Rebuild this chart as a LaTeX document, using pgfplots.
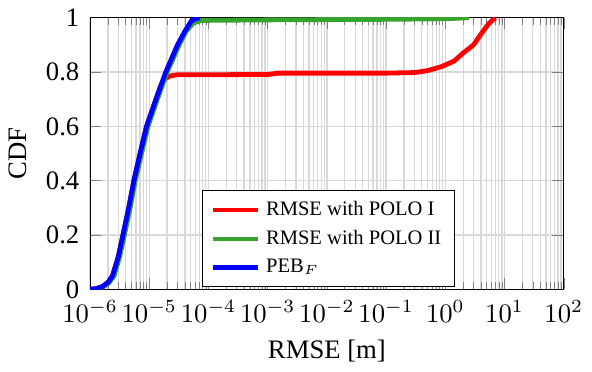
\documentclass[border=0pt]{standalone}
\usepackage{fontspec}
\setmainfont{Liberation Serif}
\usepackage{pgfplots}
\pgfplotsset{compat=1.18}
\definecolor{myred}{RGB}{255,0,0}
\definecolor{mygreen}{RGB}{55,165,45}
\definecolor{myblue}{RGB}{0,0,255}
\begin{document}
\begin{tikzpicture}
\begin{axis}[
  scale only axis,
  width=177.5pt, height=101.8pt,
  xmode=log,
  xmin=1e-6, xmax=1e2,
  ymin=0, ymax=1,
  xtick={1e-6,1e-5,1e-4,1e-3,1e-2,1e-1,1e0,1e1,1e2},
  ytick={0,0.2,0.4,0.6,0.8,1},
  yticklabels={0,0.2,0.4,0.6,0.8,1},
  yticklabel style={xshift=-0.5pt},
  xticklabel style={yshift=-0.6pt},
  ylabel shift=0.3pt,
  grid=both,
  major grid style={gray!30, line width=0.5pt},
  minor grid style={gray!30, line width=0.5pt},
  xlabel={RMSE [m]},
  ylabel={CDF},
  legend style={at={(0.236,0.007)}, anchor=south west, cells={anchor=west}, font=\fontsize{7.7}{9.4}\selectfont},
]
\addplot[myred, line width=1.8pt] coordinates {
(1e-6,0) (1.3e-6,0.003) (1.6e-6,0.01) (2e-6,0.025) (2.4e-6,0.05) (3e-6,0.12) (3.6e-6,0.2) (4.5e-6,0.3) (5.5e-6,0.4) (7e-6,0.5) (9e-6,0.6) (1.3e-5,0.7) (1.6e-5,0.755) (1.85e-5,0.775) (2.2e-5,0.785) (3e-5,0.79) (1e-4,0.79) (1e-3,0.791) (1.5e-3,0.796) (1e-2,0.796) (0.1,0.796) (0.3,0.798) (0.5,0.805) (0.86,0.82) (1.4,0.84) (2,0.87) (3,0.9) (4,0.94) (5.5,0.98) (7,1.0)
};
\addlegendentry{RMSE with POLO I}
\addplot[mygreen, line width=1.8pt] coordinates {
(1.05e-6,0) (1.35e-6,0.003) (1.7e-6,0.01) (2.1e-6,0.025) (2.55e-6,0.05) (3.15e-6,0.12) (3.8e-6,0.2) (4.75e-6,0.3) (5.8e-6,0.4) (7.4e-6,0.5) (9.5e-6,0.6) (1.37e-5,0.7) (2e-5,0.8) (3.2e-5,0.9) (4.2e-5,0.95) (5.5e-5,0.98) (7.5e-5,0.99) (1e-3,0.992) (1e-1,0.994) (1,0.996) (2.5,1)
};
\addlegendentry{RMSE with POLO II}
\addplot[myblue, line width=1.8pt] coordinates {
(1e-6,0) (1.3e-6,0.003) (1.6e-6,0.01) (2e-6,0.025) (2.4e-6,0.05) (3e-6,0.12) (3.6e-6,0.2) (4.5e-6,0.3) (5.5e-6,0.4) (7e-6,0.5) (9e-6,0.6) (1.3e-5,0.7) (1.9e-5,0.8) (3e-5,0.9) (4e-5,0.95) (5.2e-5,0.99) (7e-5,1.0)
};
\addlegendentry{PEB$_F$}
\end{axis}
\end{tikzpicture}
\end{document}
